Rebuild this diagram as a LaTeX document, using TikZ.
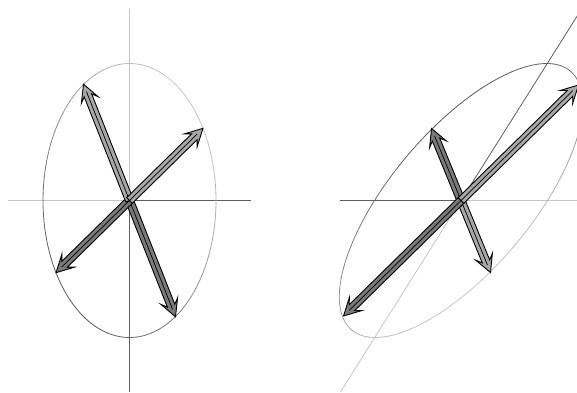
\documentclass[tikz,border=0pt]{standalone}
\usepackage{tikz}
\usepackage{xcolor}
\usetikzlibrary{calc}
\definecolor{AxisLight}{HTML}{C4C4C4}
\definecolor{AxisDark}{HTML}{5E5E5E}
\definecolor{ArrowLight}{HTML}{A8A8A8}
\definecolor{ArrowDark}{HTML}{7A7A7A}

\begin{document}
\begin{tikzpicture}[x=1pt, y=1pt,
    axislight/.style={AxisLight, line width=0.8pt},
    axisdark/.style={AxisDark, line width=0.8pt},
    arrowbody/.style={draw=black, line width=0.9pt, line join=miter},
    arrowcore/.style={black, line width=0.7pt}]
  \useasboundingbox (0,0) rectangle (577,392);
  \clip (0,0) rectangle (577,392);
  \coordinate (O1) at (129.5,191.5);
  \coordinate (O2) at (461,191.5);
  % Axes (left: original frame)
  \draw[axislight] (O1) -- ++(0,191.5);
  \draw[axisdark] (O1) -- ++(0,-191.5);
  \draw[axislight] (O1) -- ++(-121.5,0);
  \draw[axisdark] (O1) -- ++(121.5,0);
  % Axes (right: sheared frame)
  \draw[axisdark] (O2) -- ++(-121.5,0);
  \draw[axislight] (O2) -- ++(121.5,0);
  \draw[axisdark] (O2) -- ++(120.6,191.5);
  \draw[axislight] (O2) -- ++(-120.6,-191.5);
  % Ellipse, left
  \begin{scope}[shift={(O1)}]
    \foreach \t in {0,5,...,355} {
      \pgfmathsetmacro{\tone}{22+43*(1-cos(\t+2.5-50))/2}
      \draw[black!\tone, line width=0.8pt, line cap=round]
        plot[domain=\t:\t+5, samples=4, variable=\u] ({86.5*cos(\u)},{137*sin(\u)});
    }
  \end{scope}
  % Ellipse, right (mirrored and sheared)
  \begin{scope}[shift={(O2)}, cm={-1,0,0.625,1,(0,0)}]
    \foreach \t in {0,5,...,355} {
      \pgfmathsetmacro{\tone}{22+43*(1+cos(\t+2.5-50))/2}
      \draw[black!\tone, line width=0.8pt, line cap=round]
        plot[domain=\t:\t+5, samples=4, variable=\u] ({86.5*cos(\u)},{137*sin(\u)});
    }
  \end{scope}
  % Half arrows from the centres
  \foreach \cx/\dx/\dy/\shade in {O1/46/-116.3/ArrowDark, O1/-73.5/-72.2/ArrowDark,
      O1/-46/116.3/ArrowLight, O1/73.5/72.2/ArrowLight,
      O2/-29.5/72/ArrowDark, O2/29.5/-72/ArrowLight,
      O2/-117.5/-115.5/ArrowDark, O2/117.5/115.5/ArrowLight} {
    \begin{scope}[shift={(\cx)}, rotate={atan2(\dy,\dx)}]
      \pgfmathsetmacro{\len}{veclen(\dx,\dy)}
      \filldraw[arrowbody, fill=\shade] (0,-4) -- ({\len-12},-4) -- ({\len-17},-9)
        -- (\len,0) -- ({\len-17},9) -- ({\len-12},4) -- (0,4) -- cycle;
      \draw[arrowcore] (0,0) -- ({\len-8},0);
    \end{scope}
  }
\end{tikzpicture}
\end{document}
